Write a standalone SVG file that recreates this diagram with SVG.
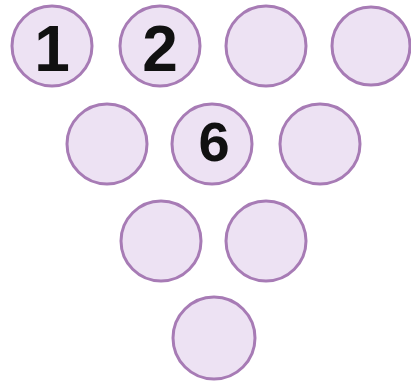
<svg xmlns="http://www.w3.org/2000/svg" width="411" height="383" viewBox="0 0 411 383">
<style>
.pin{fill:#ede2f3;stroke:#a77bb5;stroke-width:3}
.num{font-family:"Liberation Sans",Arial,sans-serif;font-weight:bold;fill:#111;text-anchor:middle}
</style>
<rect width="411" height="383" fill="#fff"/>
<g id="n1"><circle class="pin" cx="52" cy="46" r="40"/><text class="num" x="52" y="71" font-size="64">1</text></g>
<g id="n2"><circle class="pin" cx="160" cy="46" r="40"/><text class="num" x="160" y="71" font-size="64">2</text></g>
<g id="n3"><circle class="pin" cx="266" cy="46" r="40"/></g>
<g id="n4"><circle class="pin" cx="371" cy="46" r="39"/></g>
<g id="n5"><circle class="pin" cx="107" cy="144" r="40"/></g>
<g id="n6"><circle class="pin" cx="212" cy="144" r="40"/><text class="num" x="214" y="161" font-size="56">6</text></g>
<g id="n7"><circle class="pin" cx="320" cy="144" r="40"/></g>
<g id="n8"><circle class="pin" cx="161" cy="241" r="40"/></g>
<g id="n9"><circle class="pin" cx="266" cy="241" r="40"/></g>
<g id="n10"><circle class="pin" cx="214" cy="338" r="41"/></g>
<g id="connectors"></g>
</svg>
